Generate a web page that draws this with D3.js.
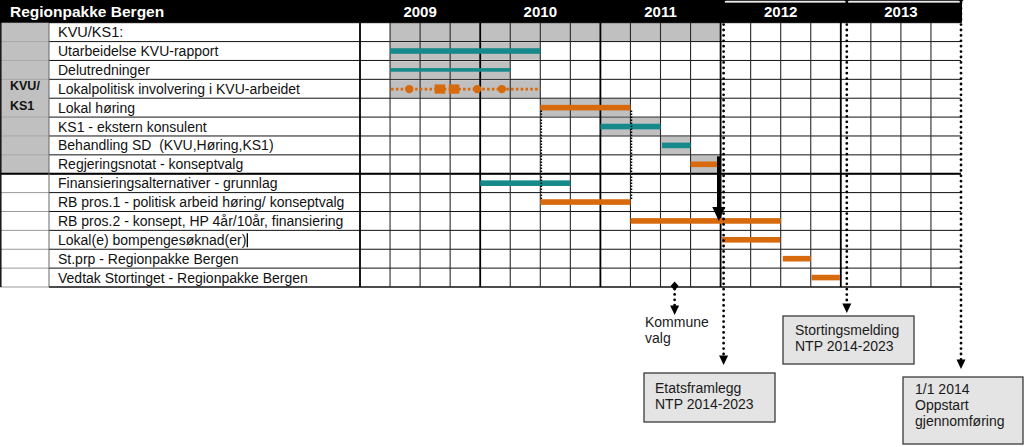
<!DOCTYPE html>
<html>
<head>
<meta charset="utf-8">
<script src="https://cdn.jsdelivr.net/npm/d3@7"></script>
<style>
  body { margin: 0; background: #fff; }
  svg { display: block; }
  text { font-family: "Liberation Sans", Arial, sans-serif; white-space: pre; }
</style>
</head>
<body>
<svg id="gantt" width="1024" height="447"></svg>
<script>
// quarters are counted from Q1 2009 = 0
const title = "Regionpakke Bergen";
const years = [2009, 2010, 2011, 2012, 2013];
const sectionLabel = ["KVU/", "KS1"];

const rowLabels = [
  "KVU/KS1:",
  "Utarbeidelse KVU-rapport",
  "Delutredninger",
  "Lokalpolitisk involvering i KVU-arbeidet",
  "Lokal høring",
  "KS1 - ekstern konsulent",
  "Behandling SD  (KVU,Høring,KS1)",
  "Regjeringsnotat - konseptvalg",
  "Finansieringsalternativer - grunnlag",
  "RB pros.1 - politisk arbeid høring/ konseptvalg",
  "RB pros.2 - konsept, HP 4år/10år, finansiering",
  "Lokal(e) bompengesøknad(er)",
  "St.prp - Regionpakke Bergen",
  "Vedtak Stortinget - Regionpakke Bergen"
];
const planStart = [1, 1, 1, 1, 6, 8, 10, 11, null, null, null, null, null, null];
const planEnd   = [12, 6, 5, 6, 9, 10, 11, 12, null, null, null, null, null, null];
const barStart  = [null, 1, 1, 1, 6, 8, 10.05, 11, 4, 6, 9, 12.05, 14.07, 15.03];
const barEnd    = [null, 6, 5, 6, 9, 10, 11, 11.9, 7, 9, 14, 13.98, 15, 15.97];
const barKind   = [null, "teal", "teal-thin", "orange-dotted", "orange", "teal", "teal", "orange",
                   "teal", "orange", "orange", "orange", "orange", "orange"];

// markers on the dotted line (Lokalpolitisk involvering)
const circleMarks = [1.64, 3.9, 4.72];
const squareMarks = [2.66, 3.13];

// milestones
const milestoneLabels = [["Kommune", "valg"], ["Etatsframlegg", "NTP 2014-2023"],
                         ["Stortingsmelding", "NTP 2014-2023"], ["1/1 2014", "Oppstart", "gjennomføring"]];
const milestoneQuarter = [10.47, 12.1, 16.2, 20];

const svg = d3.select("#gantt");
const x = d3.scaleLinear().domain([0, 20]).range([360, 961]);
const y = d3.scaleBand().domain(d3.range(rowLabels.length)).range([22.7, 287]);
const rowH = y.bandwidth();
const colors = { teal: "#16898a", orange: "#d76a0c", plan: "#c0c0c0" };
const kvuEnd = 7;

// backgrounds
svg.append("rect")
  .attr("x", 0).attr("y", y(0))
  .attr("width", 49).attr("height", y(kvuEnd) + rowH - y(0))
  .attr("fill", colors.plan);

const planRows = d3.range(rowLabels.length).filter(i => planStart[i] !== null);
svg.append("g").attr("class", "plan").selectAll("rect")
  .data(planRows)
  .join("rect")
  .attr("x", i => x(planStart[i]))
  .attr("y", i => y(i) + (i === 0 ? 0 : 0.8))
  .attr("width", i => x(planEnd[i]) - x(planStart[i]))
  .attr("height", i => rowH - (i === 0 ? 0 : 1.6))
  .attr("fill", colors.plan);

// grid
const grid = svg.append("g");
d3.range(rowLabels.length + 1).forEach(i => {
  const yy = i === rowLabels.length ? 287 : y(i);
  grid.append("line")
    .attr("x1", 0).attr("x2", 49).attr("y1", yy).attr("y2", yy)
    .attr("stroke", i === 4 ? "none" : (i <= kvuEnd ? "#a8a8a8" : "#9a9a9a"))
    .attr("stroke-width", 1);
  grid.append("line")
    .attr("x1", 49).attr("x2", x(20)).attr("y1", yy).attr("y2", yy)
    .attr("stroke", "#111")
    .attr("stroke-width", i === rowLabels.length ? 1.5 : 1);
});
grid.append("line").attr("x1", 0).attr("x2", x(20)).attr("y1", y(kvuEnd + 1)).attr("y2", y(kvuEnd + 1))
  .attr("stroke", "#000").attr("stroke-width", 2);
grid.append("line").attr("x1", 0.8).attr("x2", 0.8).attr("y1", 22).attr("y2", 287)
  .attr("stroke", "#111").attr("stroke-width", 1.5);
grid.append("line").attr("x1", 49).attr("x2", 49).attr("y1", 22).attr("y2", 287)
  .attr("stroke", "#666").attr("stroke-width", 1);
d3.range(0, 20).forEach(q => {
  grid.append("line")
    .attr("x1", x(q)).attr("x2", x(q)).attr("y1", 22).attr("y2", 287)
    .attr("stroke", q % 4 === 0 ? "#000" : "#2a2a2a")
    .attr("stroke-width", q % 4 === 0 ? 1.8 : 1.1);
});

// header
svg.append("rect").attr("x", 0).attr("y", 0).attr("width", x(20) + 1).attr("height", 22.7).attr("fill", "#000");
svg.append("rect").attr("x", x(12) + 2.5).attr("y", 0).attr("width", x(20) - x(12) - 2.5).attr("height", 2.6).attr("fill", "#fff");
svg.append("line").attr("x1", x(12) + 2).attr("x2", x(20)).attr("y1", 0.6).attr("y2", 0.6)
  .attr("stroke", "#222").attr("stroke-width", 1);
svg.append("text").attr("x", 10).attr("y", 17)
  .attr("fill", "#fff").attr("font-weight", "bold").attr("font-size", 15.5)
  .text(title);
svg.append("g").selectAll("text").data(years).join("text")
  .attr("x", (d, i) => x(i * 4 + 2)).attr("y", 17)
  .attr("text-anchor", "middle").attr("fill", "#fff")
  .attr("font-weight", "bold").attr("font-size", 15)
  .text(d => d);

// row labels
const labelText = svg.append("g").selectAll("text").data(rowLabels).join("text")
  .attr("x", 58).attr("y", (d, i) => y(i) + rowH / 2 + 5)
  .attr("font-size", (d, i) => i === 0 ? 14.5 : 14).attr("fill", "#111")
  .text(d => d);
const cursorNode = labelText.filter(d => d === "Lokal(e) bompengesøknad(er)").node();
if (cursorNode) {
  const w = cursorNode.getComputedTextLength();
  svg.append("line").attr("x1", 58 + w + 1).attr("x2", 58 + w + 1)
    .attr("y1", y(11) + 3).attr("y2", y(11) + rowH - 2)
    .attr("stroke", "#000").attr("stroke-width", 1.3);
}
svg.append("g").selectAll("text").data(sectionLabel).join("text")
  .attr("x", 10).attr("y", (d, i) => y(3) + rowH / 2 + 1 + i * 20)
  .attr("font-size", 12.5).attr("font-weight", "bold").attr("fill", "#111")
  .text(d => d);

// bars
const barRows = d3.range(rowLabels.length).filter(i => barStart[i] !== null);
svg.append("g").selectAll("rect")
  .data(barRows.filter(i => barKind[i] !== "orange-dotted"))
  .join("rect")
  .attr("x", i => x(barStart[i]))
  .attr("width", i => x(barEnd[i]) - x(barStart[i]))
  .attr("y", i => y(i) + rowH / 2 - (barKind[i] === "teal-thin" ? 1.8 : 2.8))
  .attr("height", i => barKind[i] === "teal-thin" ? 3.6 : 5.6)
  .attr("fill", i => barKind[i].startsWith("teal") ? colors.teal : colors.orange);

barRows.filter(i => barKind[i] === "orange-dotted").forEach(i => {
  const cy = y(i) + rowH / 2 + 0.3;
  svg.append("line")
    .attr("x1", x(barStart[i]) + 1).attr("x2", x(barEnd[i]))
    .attr("y1", cy).attr("y2", cy)
    .attr("stroke", colors.orange).attr("stroke-width", 2.8)
    .attr("stroke-dasharray", "2.6 2.2");
  svg.append("g").selectAll("circle").data(circleMarks).join("circle")
    .attr("cx", d => x(d)).attr("cy", cy).attr("r", 4.2)
    .attr("fill", colors.orange);
  svg.append("g").selectAll("rect").data(squareMarks).join("rect")
    .attr("x", d => x(d) - 5.3).attr("y", cy - 4.6)
    .attr("width", 10.6).attr("height", 9.2)
    .attr("fill", colors.orange);
});

// small dotted connectors from Lokal høring to RB pros.1
[6, 9].forEach(q => {
  svg.append("line")
    .attr("x1", x(q) + 1).attr("x2", x(q) + 1)
    .attr("y1", y(4) + rowH / 2 + 2.8).attr("y2", y(9) + rowH / 2 - 2.8)
    .attr("stroke", "#000").attr("stroke-width", 1.6)
    .attr("stroke-dasharray", "1.6 1.4");
});

// thick arrow: Regjeringsnotat -> RB pros.2
const ax = x(12) - 1.8;
svg.append("line")
  .attr("x1", ax).attr("x2", ax)
  .attr("y1", y(7) + 1.5).attr("y2", y(10) + rowH / 2 - 12)
  .attr("stroke", "#000").attr("stroke-width", 3.6);
svg.append("path")
  .attr("d", `M${ax - 6.5},${y(10) + rowH / 2 - 14} L${ax + 6.5},${y(10) + rowH / 2 - 14} L${ax},${y(10) + rowH / 2} Z`)
  .attr("fill", "#000");

// milestone dotted arrows
const arrowEnd = [315, 365, 313, 369];
const arrowTop = [286, 0, 0, 0];
milestoneQuarter.forEach((q, i) => {
  const mx = x(q);
  svg.append("line")
    .attr("x1", mx).attr("x2", mx)
    .attr("y1", arrowTop[i] + 3).attr("y2", arrowEnd[i] - 9)
    .attr("stroke", "#000").attr("stroke-width", 2.8)
    .attr("stroke-linecap", "round")
    .attr("stroke-dasharray", "0 5.4");
  svg.append("path")
    .attr("d", `M${mx - 4.5},${arrowEnd[i] - 9.5} L${mx + 4.5},${arrowEnd[i] - 9.5} L${mx},${arrowEnd[i]} Z`)
    .attr("fill", "#000");
  if (i > 0) {
    svg.append("path")
      .attr("d", `M${mx - 2.5},0 L${mx + 2.5},0 L${mx},3 Z`)
      .attr("fill", "#000");
  }
});
// election diamond
svg.append("path")
  .attr("d", `M${x(milestoneQuarter[0])},281.5 l4,4.5 l-4,4.5 l-4,-4.5 Z`)
  .attr("fill", "#000");

// annotation boxes
const boxes = [
  null,
  { x: 644, y: 373, w: 131, h: 49, tx: 655, ty: 393 },
  { x: 783, y: 316, w: 131, h: 48, tx: 795, ty: 335 },
  { x: 903, y: 377, w: 120, h: 67, tx: 915, ty: 394 }
];
milestoneLabels.forEach((lines, i) => {
  const b = boxes[i];
  if (b) {
    svg.append("rect")
      .attr("x", b.x).attr("y", b.y).attr("width", b.w).attr("height", b.h)
      .attr("fill", "#e4e4e4").attr("stroke", "#3a3a3a").attr("stroke-width", 1.3);
  }
  const tx = b ? b.tx : 645, ty = b ? b.ty : 326.5;
  svg.append("g").selectAll("text").data(lines).join("text")
    .attr("x", tx).attr("y", (d, k) => ty + k * 16)
    .attr("font-size", 14).attr("fill", "#1a1a1a")
    .text(d => d);
});
</script>
</body>
</html>
